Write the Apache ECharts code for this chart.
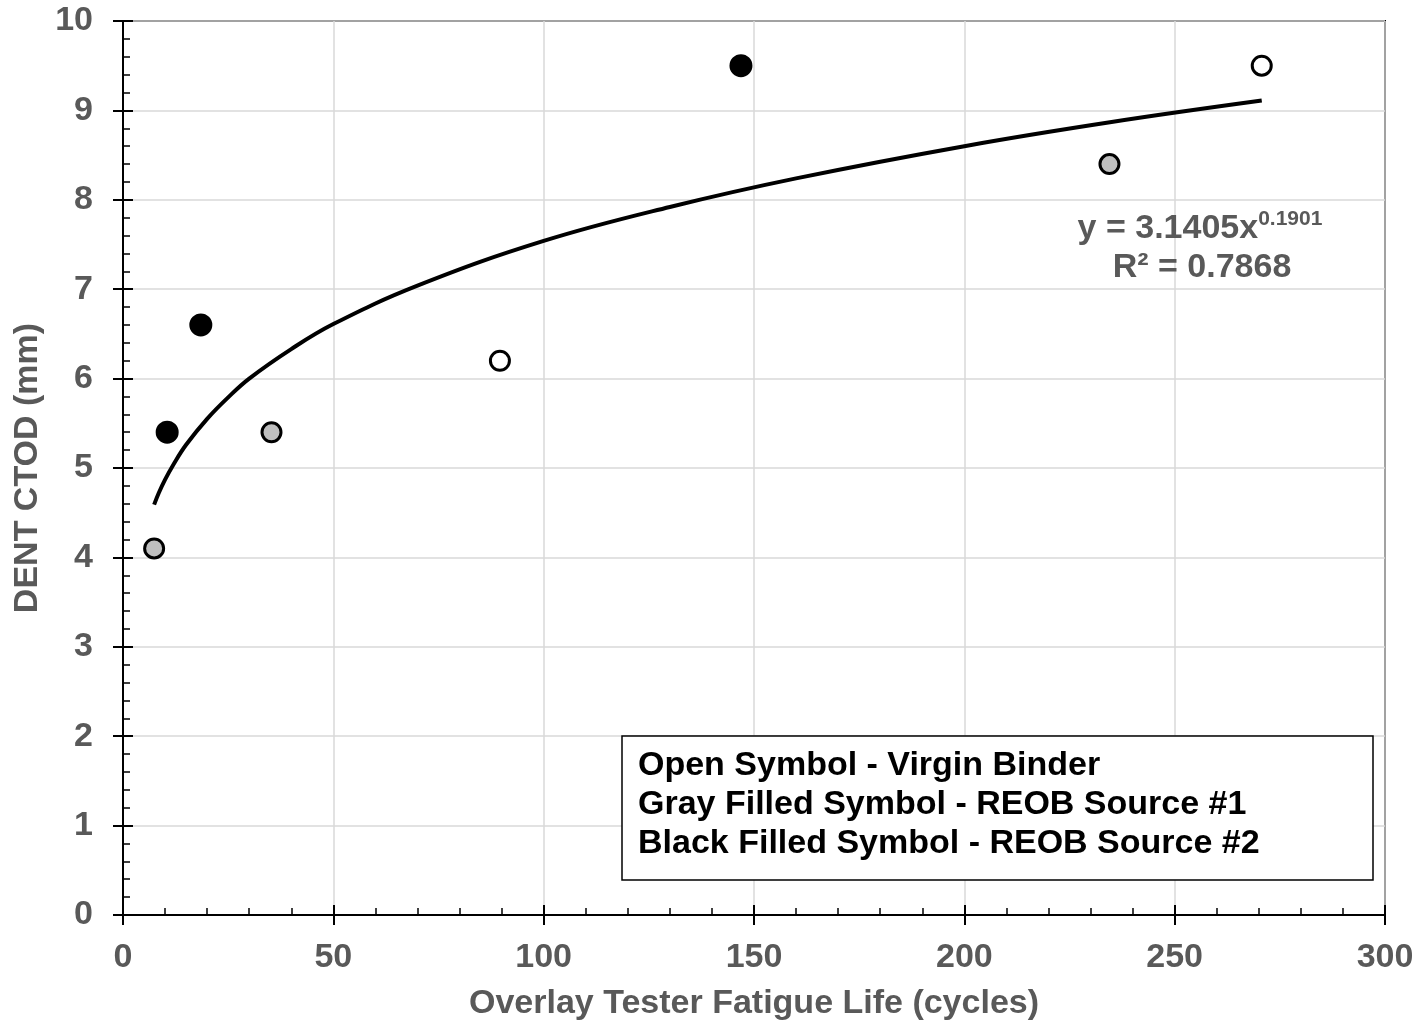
<!DOCTYPE html>
<html>
<head>
<meta charset="utf-8">
<script src="https://cdn.jsdelivr.net/npm/echarts@6/dist/echarts.min.js"></script>
<style>html,body{margin:0;padding:0;background:#fff;}#c{width:1420px;height:1020px;}</style>
</head>
<body>
<div id="c"></div>
<script>
// ---- data ----
var openX = [89.6, 270.7];
var openY = [6.2, 9.5];
var grayX = [7.4, 35.3, 234.5];
var grayY = [4.1, 5.4, 8.4];
var blackX = [10.5, 18.5, 146.9];
var blackY = [5.4, 6.6, 9.5];
var trendX = [7.4, 8.5, 10, 12, 15, 20, 25, 30, 40, 50, 70, 100, 130, 160, 200, 235, 270.7];
var trendY = [4.59, 4.72, 4.87, 5.04, 5.26, 5.55, 5.79, 6.00, 6.33, 6.61, 7.04, 7.54, 7.92, 8.24, 8.60, 8.87, 9.11];
var xTicks = [0, 50, 100, 150, 200, 250, 300];
var yTicks = [0, 1, 2, 3, 4, 5, 6, 7, 8, 9, 10];
var xTitle = 'Overlay Tester Fatigue Life (cycles)';
var yTitle = 'DENT CTOD (mm)';
var eqMain = 'y = 3.1405x';
var eqExp = '0.1901';
var eqR2 = 'R\u00B2 = 0.7868';
var legendLines = ['Open Symbol - Virgin Binder', 'Gray Filled Symbol - REOB Source #1', 'Black Filled Symbol - REOB Source #2'];

function zip(a, b) { return a.map(function (v, i) { return [v, b[i]]; }); }

var FONT = 'Liberation Sans, Arial, sans-serif';
var GRAY = '#595959';

var chart = echarts.init(document.getElementById('c'), null, { renderer: 'canvas' });

var baseX = {
  type: 'value', min: xTicks[0], max: xTicks[xTicks.length - 1], interval: 50,
  position: 'bottom'
};
var baseY = {
  type: 'value', min: yTicks[0], max: yTicks[yTicks.length - 1], interval: 1,
  position: 'left'
};

var option = {
  animation: false,
  backgroundColor: '#fff',
  grid: { left: 123, right: 35, top: 21, bottom: 105, containLabel: false, outerBoundsMode: 'none',
    show: true, borderColor: '#000', borderWidth: 2, backgroundColor: 'transparent' },
  xAxis: [
    Object.assign({}, baseX, {
      name: xTitle, nameLocation: 'middle', nameGap: 72,
      nameTextStyle: { color: GRAY, fontFamily: FONT, fontWeight: 'bold', fontSize: 34 },
      axisLine: { show: true, lineStyle: { color: '#000', width: 2 } },
      axisTick: { show: true, inside: false, length: 10, lineStyle: { color: '#000', width: 2 } },
      axisLabel: { color: GRAY, fontFamily: FONT, fontWeight: 'bold', fontSize: 34, margin: 26,
        formatter: function (v) { return xTicks.indexOf(v) >= 0 ? String(v) : ''; } },
      splitLine: { show: true, lineStyle: { color: '#d9d9d9', width: 1.5 } },
      minorTick: { show: false }
    }),
    Object.assign({}, baseX, {
      axisLine: { show: false },
      axisTick: { show: true, inside: true, length: 10, lineStyle: { color: '#000', width: 2 } },
      minorTick: { show: true, splitNumber: 5, length: 7, lineStyle: { color: '#000', width: 1.5 } },
      axisLabel: { show: false },
      splitLine: { show: false }
    })
  ],
  yAxis: [
    Object.assign({}, baseY, {
      name: yTitle, nameLocation: 'middle', nameGap: 68, nameRotate: 90,
      nameTextStyle: { color: GRAY, fontFamily: FONT, fontWeight: 'bold', fontSize: 34 },
      axisLine: { show: true, lineStyle: { color: '#000', width: 2 } },
      axisTick: { show: true, inside: false, length: 10, lineStyle: { color: '#000', width: 2 } },
      axisLabel: { color: GRAY, fontFamily: FONT, fontWeight: 'bold', fontSize: 34, margin: 30,
        formatter: function (v) { return yTicks.indexOf(v) >= 0 ? String(v) : ''; } },
      splitLine: { show: true, lineStyle: { color: '#d9d9d9', width: 1.5 } },
      minorTick: { show: false }
    }),
    Object.assign({}, baseY, {
      axisLine: { show: false },
      axisTick: { show: true, inside: true, length: 10, lineStyle: { color: '#000', width: 2 } },
      minorTick: { show: true, splitNumber: 5, length: 7, lineStyle: { color: '#000', width: 1.5 } },
      axisLabel: { show: false },
      splitLine: { show: false }
    })
  ],
  series: [
    {
      type: 'line', name: 'trend', data: zip(trendX, trendY), smooth: 0.4,
      showSymbol: false, symbol: 'none', z: 2,
      lineStyle: { color: '#000', width: 4 }
    },
    {
      type: 'scatter', name: 'open', data: zip(openX, openY), symbol: 'circle', symbolSize: 19, z: 3,
      itemStyle: { color: '#ffffff', borderColor: '#000', borderWidth: 3, opacity: 1 }
    },
    {
      type: 'scatter', name: 'gray', data: zip(grayX, grayY), symbol: 'circle', symbolSize: 19, z: 3,
      itemStyle: { color: '#bfbfbf', borderColor: '#000', borderWidth: 3, opacity: 1 }
    },
    {
      type: 'scatter', name: 'black', data: zip(blackX, blackY), symbol: 'circle', symbolSize: 20, z: 3,
      itemStyle: { color: '#000000', borderColor: '#000', borderWidth: 3, opacity: 1 }
    }
  ],
  graphic: [
    {
      type: 'text', x: 1200, y: 229, z: 10,
      style: {
        text: '{a|' + eqMain + '}{b|' + eqExp + '}',
        textAlign: 'center', textVerticalAlign: 'middle',
        rich: {
          a: { fontFamily: FONT, fontWeight: 'bold', fontSize: 34, fill: GRAY, color: GRAY, lineHeight: 40 },
          b: { fontFamily: FONT, fontWeight: 'bold', fontSize: 21, fill: GRAY, color: GRAY, lineHeight: 21, verticalAlign: 'top' }
        }
      }
    },
    {
      type: 'text', x: 1202, y: 268, z: 10,
      style: { text: eqR2, textAlign: 'center', textVerticalAlign: 'middle',
        font: 'bold 34px ' + FONT, fill: GRAY }
    },
    {
      type: 'rect', z: 10,
      shape: { x: 622, y: 736, width: 751, height: 144 },
      style: { fill: '#fff', stroke: '#000', lineWidth: 1.5 }
    },
    {
      type: 'text', x: 638, y: 746, z: 11,
      style: { text: legendLines.join('\n'), textAlign: 'left', textVerticalAlign: 'top',
        font: 'bold 34px ' + FONT, lineHeight: 39, fill: '#000' }
    }
  ]
};
chart.setOption(option);
</script>
</body>
</html>
